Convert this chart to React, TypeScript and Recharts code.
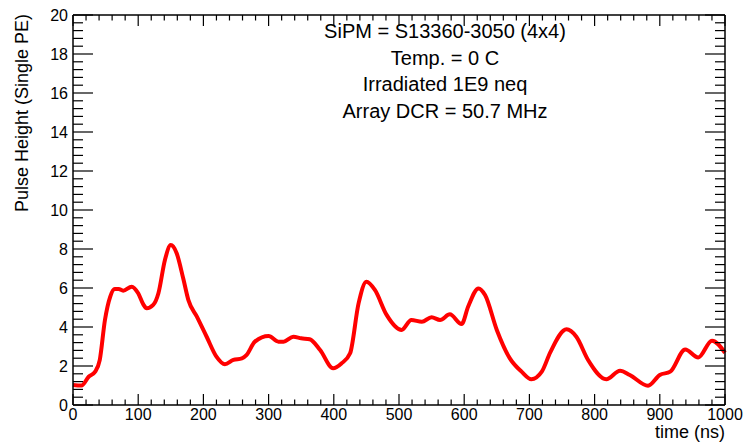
import React from 'react';
import { LineChart, Line, XAxis, YAxis, Customized } from 'recharts';

// readings (time in ns, pulse height in single PE)
const TIME_NS = [
  0, 13, 24, 34, 41, 49, 57, 64, 70, 77, 90, 100, 108, 113, 123, 131, 141, 150, 159, 169,
  177, 190, 205, 220, 233, 246, 259, 266, 279, 300, 315, 323, 338, 350, 363, 379, 399, 412, 425, 438,
  450, 463, 481, 504, 519, 535, 550, 563, 578, 596, 606, 622, 632, 650, 670, 688, 703, 719, 732, 757,
  772, 790, 818, 839, 854, 882, 900, 916, 939, 959, 980, 1000,
];
const PULSE_PE = [
  1.03, 1.0, 1.45, 1.71, 2.3, 4.36, 5.55, 5.95, 5.95, 5.86, 6.07, 5.73, 5.15, 4.96, 5.13, 5.73, 7.44, 8.2, 7.78, 6.5,
  5.38, 4.53, 3.5, 2.48, 2.09, 2.31, 2.39, 2.56, 3.25, 3.54, 3.25, 3.25, 3.5, 3.42, 3.37, 2.82, 1.88, 2.14, 2.65, 5.21,
  6.32, 5.9, 4.62, 3.85, 4.36, 4.27, 4.5, 4.36, 4.65, 4.15, 5.04, 5.98, 5.64, 3.85, 2.39, 1.71, 1.32, 1.71, 2.7, 3.88,
  3.5, 2.31, 1.32, 1.76, 1.54, 0.99, 1.54, 1.71, 2.85, 2.44, 3.3, 2.68,
];

const X_MAJOR = [0, 100, 200, 300, 400, 500, 600, 700, 800, 900, 1000];
const Y_MAJOR = [0, 2, 4, 6, 8, 10, 12, 14, 16, 18, 20];

const NOTES = ['SiPM = S13360-3050 (4x4)', 'Temp. = 0 C', 'Irradiated 1E9 neq', 'Array DCR = 50.7 MHz'];

const FONT = '"Liberation Sans", Arial, Helvetica, sans-serif';

// 5 subdivisions between major ticks, ROOT style
const withMinor = (major: number[]) => {
  const out: number[] = [];
  for (let i = 0; i < major.length - 1; i++) {
    const step = (major[i + 1] - major[i]) / 5;
    for (let k = 0; k < 5; k++) out.push(+(major[i] + k * step).toFixed(4));
  }
  out.push(major[major.length - 1]);
  return out;
};
const X_TICKS = withMinor(X_MAJOR);
const Y_TICKS = withMinor(Y_MAJOR);

const data = TIME_NS.map((t, i) => ({ t, v: PULSE_PE[i] }));

const isMajor = (list: number[], v: number) => list.some((m) => Math.abs(m - v) < 1e-6);

const BottomTick = (props: any) => {
  const { x, y, payload } = props;
  const major = isMajor(X_MAJOR, payload.value);
  return (
    <g>
      <line x1={x} x2={x} y1={y} y2={y - (major ? 11 : 5.5)} stroke="#000" strokeWidth={1.2} />
      {major && (
        <text x={x} y={y + 15} textAnchor="middle" fontSize={16} fontFamily={FONT} fill="#000">
          {payload.value}
        </text>
      )}
    </g>
  );
};

const TopTick = (props: any) => {
  const { x, y, payload } = props;
  const major = isMajor(X_MAJOR, payload.value);
  return <line x1={x} x2={x} y1={y} y2={y + (major ? 11 : 5.5)} stroke="#000" strokeWidth={1.2} />;
};

const LeftTick = (props: any) => {
  const { x, y, payload } = props;
  const major = isMajor(Y_MAJOR, payload.value);
  return (
    <g>
      <line x1={x} x2={x + (major ? 20 : 10)} y1={y} y2={y} stroke="#000" strokeWidth={1.2} />
      {major && (
        <text x={x - 5} y={y} dy="0.36em" textAnchor="end" fontSize={16} fontFamily={FONT} fill="#000">
          {payload.value}
        </text>
      )}
    </g>
  );
};

const RightTick = (props: any) => {
  const { x, y, payload } = props;
  const major = isMajor(Y_MAJOR, payload.value);
  return <line x1={x} x2={x - (major ? 20 : 10)} y1={y} y2={y} stroke="#000" strokeWidth={1.2} />;
};

const Annotations = () => (
  <g fontFamily={FONT} fill="#000">
    {NOTES.map((s, i) => (
      <text key={i} x={445} y={38 + i * 26.5} textAnchor="middle" fontSize={20}>
        {s}
      </text>
    ))}
    <text x={28} y={14} transform="rotate(-90 28 14)" textAnchor="end" fontSize={18}>
      Pulse Height (Single PE)
    </text>
    <text x={725} y={438} textAnchor="end" fontSize={18}>
      time (ns)
    </text>
  </g>
);

const axisLine = { stroke: '#000', strokeWidth: 1.5 };

export default function App() {
  return (
    <div style={{ position: 'absolute', left: 0, top: 0, background: '#fff' }}>
      <LineChart width={747} height={444} data={data} margin={{ top: 14, right: 21, bottom: 0, left: 0 }}>
        <XAxis
          dataKey="t"
          type="number"
          domain={[0, 1000]}
          ticks={X_TICKS}
          interval={0}
          height={39}
          tickSize={0}
          tickMargin={0}
          tickLine={false}
          axisLine={axisLine}
          tick={<BottomTick />}
        />
        <XAxis
          xAxisId="top"
          orientation="top"
          dataKey="t"
          type="number"
          domain={[0, 1000]}
          ticks={X_TICKS}
          interval={0}
          height={1}
          tickSize={0}
          tickMargin={0}
          tickLine={false}
          axisLine={axisLine}
          tick={<TopTick />}
        />
        <YAxis
          type="number"
          domain={[0, 20]}
          ticks={Y_TICKS}
          interval={0}
          width={73}
          tickSize={0}
          tickMargin={0}
          tickLine={false}
          axisLine={axisLine}
          tick={<LeftTick />}
        />
        <YAxis
          yAxisId="r"
          orientation="right"
          type="number"
          domain={[0, 20]}
          ticks={Y_TICKS}
          interval={0}
          width={1}
          tickSize={0}
          tickMargin={0}
          tickLine={false}
          axisLine={axisLine}
          tick={<RightTick />}
        />
        <Line
          xAxisId="top"
          yAxisId="r"
          dataKey="v"
          stroke="none"
          dot={false}
          activeDot={false}
          isAnimationActive={false}
        />
        <Line
          type="monotone"
          dataKey="v"
          stroke="#ff0000"
          strokeWidth={4}
          dot={false}
          activeDot={false}
          isAnimationActive={false}
        />
        <Customized component={<Annotations />} />
      </LineChart>
    </div>
  );
}
